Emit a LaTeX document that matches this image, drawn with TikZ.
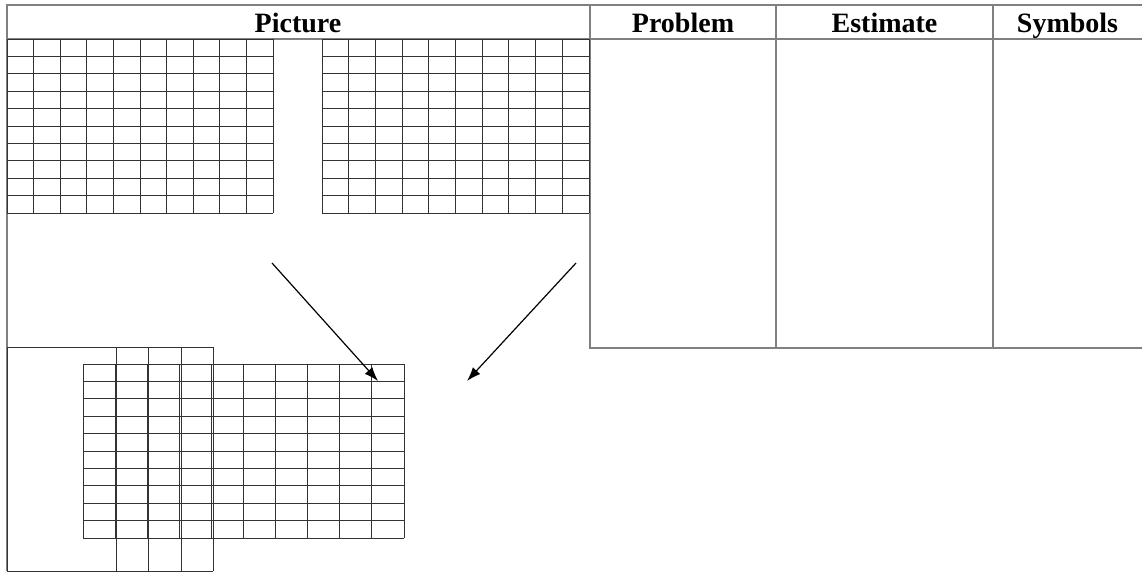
\documentclass[tikz,border=0pt]{standalone}
\usepackage{fontspec}
\setmainfont{Liberation Serif}
\usetikzlibrary{arrows.meta}
\definecolor{rulegray}{gray}{0.5}
\definecolor{gridgray}{gray}{0.2}
\tikzset{
  rule/.style={rulegray,line width=1.4pt},
  cell/.style={gridgray,line width=1pt},
  head/.style={font=\fontsize{28}{30}\selectfont\bfseries,inner sep=0pt,anchor=base}
}
\begin{document}
\begin{tikzpicture}[>={Latex[length=14pt,width=10pt]},x=1pt,y=-1pt]
      \useasboundingbox[fill=white] (0,0) rectangle (1142,573);
      % table
      \draw[rule] (7,571) -- (7,5) -- (1142,5);
      \draw[rule] (7,39) -- (1142,39);
      \draw[rule] (590,5) -- (590,348) -- (1142,348);
      \draw[rule] (776,5) -- (776,348);
      \draw[rule] (993,5) -- (993,348);
      \node[head] (picture) at (298,32) {Picture};
      \node[head] (problem) at (683,32) {Problem};
      \node[head] (estimate) at (884.5,32) {Estimate};
      \node[head] (symbols) at (1067.5,32) {Symbols};

      % top grids
      \foreach \i in {0,...,10} {
        \draw[cell] ({7+26.6*\i},39) -- ({7+26.6*\i},213);
        \draw[cell] ({322+26.7*\i},39) -- ({322+26.7*\i},213);
        \draw[cell] (7,{39+17.4*\i}) -- (273,{39+17.4*\i});
        \draw[cell] (322,{39+17.4*\i}) -- (589,{39+17.4*\i});
      }

      % bottom grid and strips
      \draw[cell] (213,347) -- (7,347) -- (7,571) -- (213,571);
      \foreach \i in {0,...,10} {
        \draw[cell] ({83+32.1*\i},364) -- ({83+32.1*\i},538);
        \draw[cell] (83,{364+17.4*\i}) -- (404,{364+17.4*\i});
      }
      \foreach \x in {116,148,181,213}
        \draw[cell] (\x,347) -- (\x,571);

      % arrows
      \coordinate (leftfrom) at (272,263);
      \coordinate (leftto) at (378,381);
      \coordinate (rightfrom) at (576,263);
      \coordinate (rightto) at (467,381);
      \draw[->,line width=1.2pt] (leftfrom) -- (leftto);
      \draw[->,line width=1.2pt] (rightfrom) -- (rightto);
    \end{tikzpicture}
\end{document}
